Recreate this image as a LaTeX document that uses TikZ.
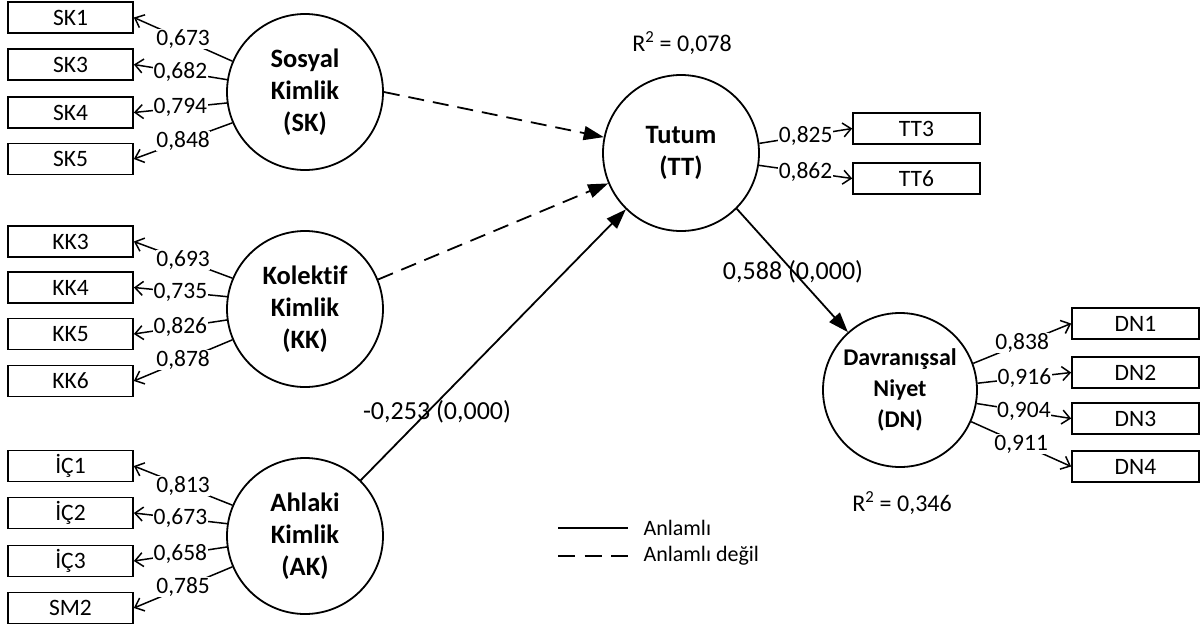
\documentclass[tikz,border=0pt]{standalone}
\usepackage{fontspec}
\setmainfont{Carlito}[Ligatures=NoCommon]
\usetikzlibrary{arrows.meta}
\begin{document}
\begin{tikzpicture}[x=1pt,y=-1pt,
  lat/.style={circle,draw,line width=1.8pt,minimum size=156pt,inner sep=0pt,align=center,font=\bfseries\fontsize{26.5}{32}\selectfont},
  ind/.style={rectangle,draw,line width=1.7pt,minimum width=125pt,minimum height=31pt,inner sep=0pt,font=\fontsize{23.5}{24}\selectfont},
  load/.style={line width=1.5pt,-{Straight Barb[length=8pt,width=14pt,line width=1.5pt]}},
  lbl/.style={fill=white,inner sep=0.5pt,font=\fontsize{23.5}{24}\selectfont},
  strpath/.style={line width=1.8pt,-{Triangle[length=20pt,width=14pt]}},
  nspath/.style={strpath,dash pattern=on 16pt off 9pt},
  biglbl/.style={font=\fontsize{26}{30}\selectfont},
  rsq/.style={font=\fontsize{24}{28}\selectfont},
  leg/.style={font=\fontsize{22}{26}\selectfont,anchor=west}
]
\useasboundingbox (0,0) rectangle (1200,627);

% latent variables
\node[lat] (SK) at (305,92) {Sosyal\\Kimlik\\(SK)};
\node[lat] (KK) at (305,309) {Kolektif\\Kimlik\\(KK)};
\node[lat] (AK) at (305,536) {Ahlaki\\Kimlik\\(AK)};
\node[lat] (TT) at (681,153) {Tutum\\(TT)};
\node[lat,minimum size=154pt,font=\bfseries\fontsize{24}{31}\selectfont] (DN) at (900,390) {Davranışsal\\Niyet\\(DN)};

% indicators left
\node[ind] (SK1) at (70.5,17.5) {SK1};
\node[ind] (SK3) at (70.5,64.5) {SK3};
\node[ind] (SK4) at (70.5,112.5) {SK4};
\node[ind] (SK5) at (70.5,159) {SK5};
\node[ind] (KK3) at (70.5,241.5) {KK3};
\node[ind] (KK4) at (70.5,287.5) {KK4};
\node[ind] (KK5) at (70.5,334) {KK5};
\node[ind] (KK6) at (70.5,381) {KK6};
\node[ind] (IC1) at (70.5,466) {İÇ1};
\node[ind] (IC2) at (70.5,513) {İÇ2};
\node[ind] (IC3) at (70.5,561) {İÇ3};
\node[ind] (SM2) at (70.5,608) {SM2};

% indicators right
\node[ind,minimum width=127pt] (TT3) at (916.5,128.5) {TT3};
\node[ind,minimum width=127pt] (TT6) at (916.5,178.5) {TT6};
\node[ind,minimum width=127pt] (DN1) at (1135.5,323.5) {DN1};
\node[ind,minimum width=127pt] (DN2) at (1135.5,372.5) {DN2};
\node[ind,minimum width=127pt] (DN3) at (1135.5,418.5) {DN3};
\node[ind,minimum width=127pt] (DN4) at (1135.5,466.5) {DN4};

% loadings
\draw[load] (SK.157) -- node[lbl]{0,673} (SK1.east);
\draw[load] (SK.171) -- node[lbl]{0,682} (SK3.east);
\draw[load] (SK.188) -- node[lbl]{0,794} (SK4.east);
\draw[load] (SK.203) -- node[lbl]{0,848} (SK5.east);
\draw[load] (KK.157) -- node[lbl]{0,693} (KK3.east);
\draw[load] (KK.171) -- node[lbl]{0,735} (KK4.east);
\draw[load] (KK.188) -- node[lbl]{0,826} (KK5.east);
\draw[load] (KK.203) -- node[lbl]{0,878} (KK6.east);
\draw[load] (AK.157) -- node[lbl]{0,813} (IC1.east);
\draw[load] (AK.171) -- node[lbl]{0,673} (IC2.east);
\draw[load] (AK.188) -- node[lbl]{0,658} (IC3.east);
\draw[load] (AK.203) -- node[lbl]{0,785} (SM2.east);
\draw[load] (TT.7) -- node[lbl]{0,825} (TT3.west);
\draw[load] (TT.-9) -- node[lbl]{0,862} (TT6.west);
\draw[load] (DN.20) -- node[lbl]{0,838} (DN1.west);
\draw[load] (DN.5) -- node[lbl]{0,916} (DN2.west);
\draw[load] (DN.-10) -- node[lbl]{0,904} (DN3.west);
\draw[load] (DN.-24) -- node[lbl]{0,911} (DN4.west);

% structural paths
\draw[nspath] (SK.east) -- (TT);
\draw[nspath] (KK.22) -- (TT);
\draw[strpath] (AK.45) -- (TT);
\draw[strpath] (TT.-45) -- (DN);

\node[biglbl] (pAK) at (437,412) {-0,253 (0,000)};
\node[biglbl] (pTT) at (793,272) {0,588 (0,000)};
\node[rsq] (r2TT) at (682,43) {R\textsuperscript{2} = 0,078};
\node[rsq] (r2DN) at (902,503) {R\textsuperscript{2} = 0,346};

% legend
\coordinate (la1) at (558,528);
\coordinate (la2) at (628,528);
\coordinate (lb1) at (558,556);
\coordinate (lb2) at (628,556);
\draw[line width=1.8pt] (la1) -- (la2);
\draw[line width=1.8pt,dash pattern=on 17pt off 9.5pt] (lb1) -- (lb2);
\node[leg] (leg1) at (640,528) {Anlamlı};
\node[leg] (leg2) at (640,556) {Anlamlı değil};
\end{tikzpicture}
\end{document}
